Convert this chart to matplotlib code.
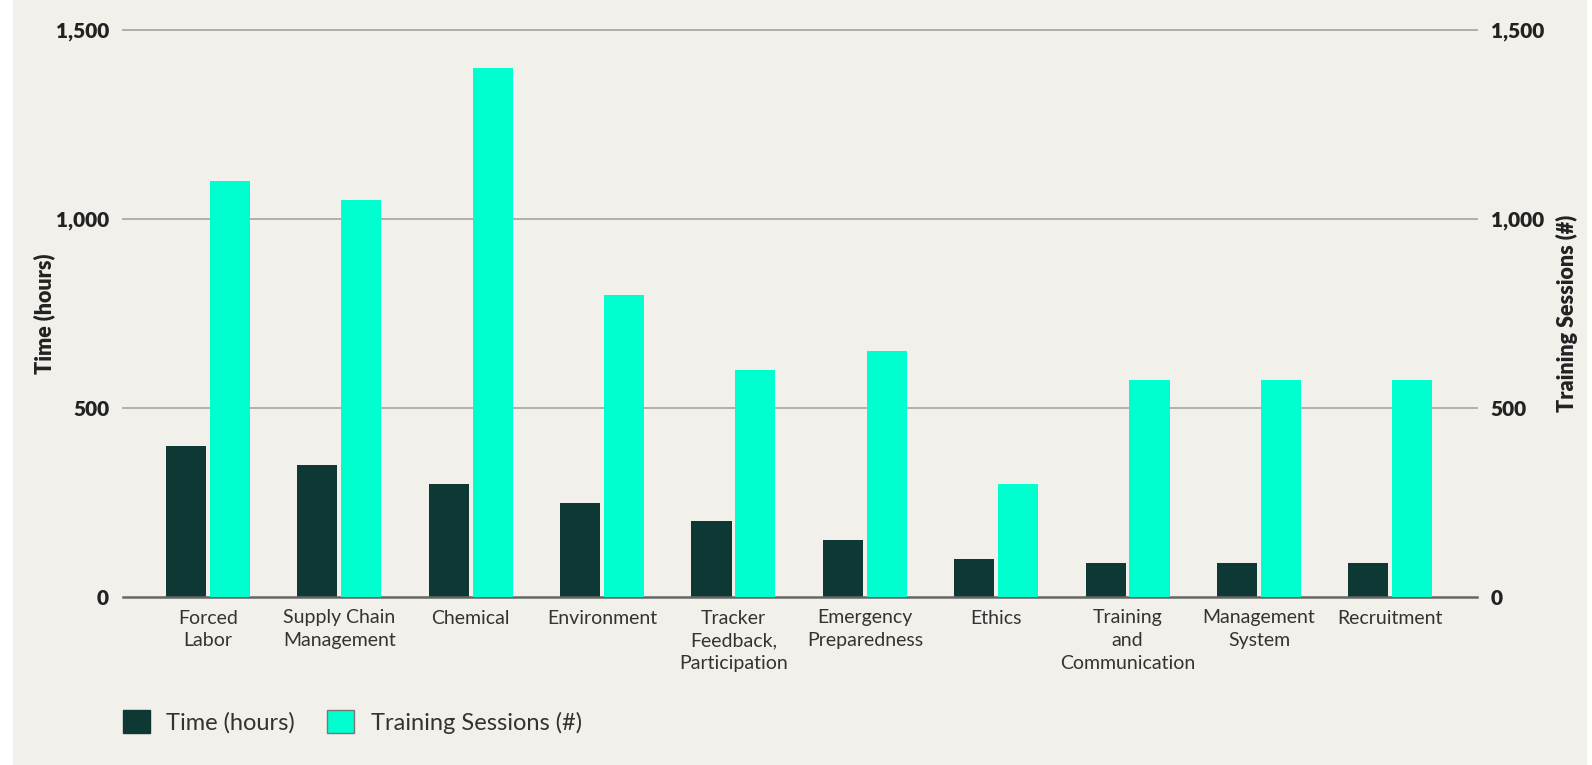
import numpy as np
import matplotlib.pyplot as plt
from matplotlib.patches import Patch, Rectangle

# Data
categories = ["Forced\nLabor", "Supply Chain\nManagement", "Chemical", "Environment",
              "Tracker\nFeedback,\nParticipation", "Emergency\nPreparedness", "Ethics",
              "Training\nand\nCommunication", "Management\nSystem", "Recruitment"]
time_hours = [400, 350, 300, 250, 200, 150, 100, 90, 90, 90]
training_sessions = [1100, 1050, 1400, 800, 600, 650, 300, 575, 575, 575]
y_ticks = [0, 500, 1000, 1500]

BG = "#F2F0EB"
DARK = "#0E3834"
CYAN = "#00FFCF"
TXT = "#333333"

plt.rcParams['font.family'] = ['Lato', 'DejaVu Sans']

fig = plt.figure(figsize=(15.92, 7.65), dpi=100, facecolor="white")
fig.patches.append(Rectangle((13 / 1592, 0), 1574 / 1592, 1, transform=fig.transFigure,
                             facecolor=BG, edgecolor="none", zorder=-10))

W, H = 1592, 765
ax = fig.add_axes([123 / W, 1 - 597 / H, 1354 / W, 567 / H])
ax.set_facecolor("none")
ax2 = ax.twinx()

x = np.arange(len(categories))
bw = 0.305
off = 0.167
ax.bar(x - off, time_hours, width=bw, color=DARK, zorder=3)
ax2.bar(x + off, training_sessions, width=bw, color=CYAN, zorder=3)

for a in (ax, ax2):
    a.set_ylim(0, 1500)
    a.set_xlim(-0.647, 9.66)
    a.set_yticks(y_ticks)
    a.set_yticklabels([f"{v:,}" for v in y_ticks], fontsize=15, fontweight=800, color="#222222")
    a.tick_params(axis="y", length=0, pad=10)
    for s in a.spines.values():
        s.set_visible(False)

# gridlines
for v in y_ticks[1:]:
    ax.axhline(v, color="#AAAAAA", lw=1.3, zorder=1, clip_on=False)
ax.axhline(0, color="#666666", lw=1.8, zorder=4, clip_on=False)

ax.set_xticks(x)
ax.set_xticklabels(categories, fontsize=14, fontweight="normal", color=TXT, linespacing=1.4)
ax.tick_params(axis="x", length=0, pad=9)

ax.set_ylabel("Time (hours)", fontsize=15.5, fontweight=800, color="#222222")
ax.yaxis.set_label_coords(-0.05, 0.5)
ax2.set_ylabel("Training Sessions (#)", fontsize=15.5, fontweight=800, color="#222222")
ax2.yaxis.set_label_coords(1.058, 0.5)

handles = [Patch(facecolor=DARK, edgecolor=DARK, label="Time (hours)"),
           Patch(facecolor=CYAN, edgecolor="#777777", label="Training Sessions (#)")]
leg = fig.legend(handles=handles, loc="center left", bbox_to_anchor=(123 / W, 1 - 722 / H),
                 ncol=2, frameon=False, fontsize=17, handlelength=1.14, handleheight=1.14,
                 handletextpad=0.7, columnspacing=1.35, borderpad=0, borderaxespad=0)
for t in leg.get_texts():
    t.set_color(TXT)

fig.savefig("out.png", dpi=100, facecolor=fig.get_facecolor())
